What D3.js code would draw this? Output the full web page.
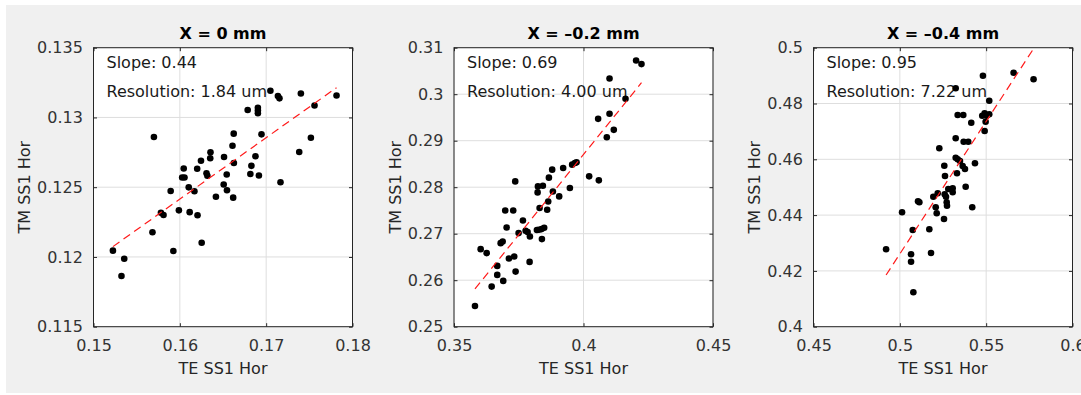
<!DOCTYPE html>
<html>
<head>
<meta charset="utf-8">
<script src="https://cdn.jsdelivr.net/npm/d3@7"></script>
<style>
  body { margin: 0; background: #ffffff; }
  svg { display: block; }
  text { font-family: "DejaVu Sans", sans-serif; }
</style>
</head>
<body>
<svg id="chart" width="1081" height="395"></svg>
<script>
// ---- Data: TE vs TM SS1 horizontal readings at three X offsets ----
const titles = ["X = 0 mm", "X = \u20130.2 mm", "X = \u20130.4 mm"];
const xLabel = "TE SS1 Hor";
const yLabel = "TM SS1 Hor";

const teX0 = [0.15225,0.15356,0.15324,0.15700,0.15683,0.15781,0.15811,0.15894,0.15925,0.15989,
  0.16045,0.16027,0.16054,0.16103,0.16114,0.16169,0.16201,0.16205,0.16245,0.16253,
  0.16309,0.16319,0.16355,0.16352,0.16418,0.16512,0.16508,0.16543,0.16546,0.16610,
  0.16624,0.16626,0.16618,0.16786,0.16817,0.16829,0.16876,0.16904,0.16904,0.16904,
  0.16916,0.16946,0.17049,0.17136,0.17154,0.17166,0.17383,0.17402,0.17518,0.17560,0.17815];
const tmY0 = [0.12045,0.11987,0.11863,0.12860,0.12177,0.12317,0.12301,0.12473,0.12043,0.12334,
  0.12634,0.12570,0.12570,0.12499,0.12321,0.12471,0.12632,0.12299,0.12690,0.12102,
  0.12600,0.12582,0.12751,0.12707,0.12432,0.12716,0.12519,0.12591,0.12478,0.12797,
  0.12884,0.12673,0.12425,0.13053,0.12595,0.12653,0.12722,0.13070,0.13050,0.13030,
  0.12584,0.12879,0.13191,0.13154,0.13137,0.12535,0.12752,0.13172,0.12854,0.13086,0.13157];

const teX1 = [0.3581,0.3603,0.36261,0.36454,0.3667,0.3667,0.36801,0.36878,0.36901,0.36978,
  0.37032,0.37121,0.37287,0.37364,0.37325,0.37379,0.37495,0.37661,0.37765,0.37842,
  0.37919,0.37931,0.38201,0.38278,0.3824,0.38228,0.38305,0.38382,0.38394,0.38432,
  0.38482,0.38598,0.38637,0.38664,0.38791,0.38818,0.39061,0.39215,0.39474,0.39562,
  0.39666,0.39732,0.40218,0.40565,0.40592,0.409,0.41005,0.41005,0.4117,0.41622,0.42031,0.42239];
const tmY1 = [0.25446,0.26668,0.26582,0.25862,0.26308,0.26114,0.26797,0.26832,0.25985,0.275,
  0.27134,0.26466,0.275,0.28125,0.26509,0.26185,0.27013,0.27284,0.27063,0.27034,
  0.26394,0.2694,0.27078,0.27084,0.28017,0.27888,0.27552,0.27099,0.26884,0.28032,
  0.27127,0.27515,0.27694,0.28205,0.28377,0.27909,0.27802,0.28414,0.27983,0.28485,
  0.28522,0.28534,0.28233,0.2947,0.28147,0.29073,0.30338,0.29578,0.29233,0.29901,0.30726,0.30647];

const teX2 = [0.49204,0.50129,0.5065,0.5065,0.50748,0.50783,0.51054,0.5113,0.51708,0.51806,
  0.51939,0.52078,0.52136,0.52194,0.52286,0.52558,0.52575,0.52616,0.52598,0.52674,
  0.52714,0.52731,0.52807,0.53061,0.53061,0.53235,0.53235,0.5335,0.5331,0.5335,
  0.53674,0.53483,0.53639,0.53772,0.53697,0.53963,0.53813,0.54137,0.54194,0.54351,
  0.53235,0.54813,0.54911,0.54773,0.54911,0.55027,0.54969,0.55178,0.55178,0.56589,0.57745];
const tmY2 = [0.42774,0.441,0.42595,0.4233,0.43466,0.41233,0.44495,0.44459,0.43491,0.42642,
  0.4466,0.4428,0.44065,0.44781,0.46394,0.4386,0.45771,0.45401,0.44746,0.4466,
  0.44459,0.44337,0.44935,0.4496,0.44817,0.46753,0.46057,0.46,0.45498,0.47588,
  0.47588,0.45939,0.4576,0.45652,0.46631,0.46631,0.45018,0.47312,0.4428,0.45857,
  0.48545,0.48996,0.47014,0.47563,0.47649,0.47563,0.47348,0.481,0.47613,0.49104,0.48867];

// Linear fit per panel (slope as reported, intercept of the fitted line)
const slopes = [0.44, 0.69, 0.95];
const intercepts = [0.05375, 0.01103, -0.04891];
const resolutions = ["1.84", "4.00", "7.22"];

const xDomains = [[0.15, 0.18], [0.35, 0.45], [0.45, 0.6]];
const yDomains = [[0.115, 0.135], [0.25, 0.31], [0.4, 0.5]];
const xTicks = [[0.15, 0.16, 0.17, 0.18], [0.35, 0.4, 0.45], [0.45, 0.5, 0.55, 0.6]];
const xTickLabels = [["0.15", "0.16", "0.17", "0.18"], ["0.35", "0.4", "0.45"], ["0.45", "0.5", "0.55", "0.6"]];
const yTicks = [[0.115, 0.12, 0.125, 0.13, 0.135],
                [0.25, 0.26, 0.27, 0.28, 0.29, 0.3, 0.31],
                [0.4, 0.42, 0.44, 0.46, 0.48, 0.5]];
const yTickLabels = [["0.115", "0.12", "0.125", "0.13", "0.135"],
                     ["0.25", "0.26", "0.27", "0.28", "0.29", "0.3", "0.31"],
                     ["0.4", "0.42", "0.44", "0.46", "0.48", "0.5"]];

const xsAll = [teX0, teX1, teX2];
const ysAll = [tmY0, tmY1, tmY2];

// ---- Layout ----
const svg = d3.select("#chart");
const W = 1081, H = 395;
const plotLefts = [93.5, 454, 813.5];
const plotTop = 47.7, plotW = 259, plotH = 279;
const axisColor = "#262626";
const gridColor = "#dedede";
const fontSize = 16;

svg.append("rect").attr("width", W).attr("height", H).attr("fill", "#ffffff");
svg.append("rect").attr("x", 6).attr("y", 5).attr("width", W - 6).attr("height", H - 7).attr("fill", "#f0f0f0");

for (let p = 0; p < 3; p++) {
  const g = svg.append("g").attr("transform", `translate(${plotLefts[p]},${plotTop})`);
  const x = d3.scaleLinear().domain(xDomains[p]).range([0, plotW]);
  const y = d3.scaleLinear().domain(yDomains[p]).range([plotH, 0]);

  // plot background
  g.append("rect").attr("width", plotW).attr("height", plotH).attr("fill", "#ffffff");

  // grid
  g.append("g").selectAll("line").data(xTicks[p]).join("line")
    .attr("x1", d => x(d)).attr("x2", d => x(d)).attr("y1", 0).attr("y2", plotH)
    .attr("stroke", gridColor).attr("stroke-width", 1);
  g.append("g").selectAll("line").data(yTicks[p]).join("line")
    .attr("y1", d => y(d)).attr("y2", d => y(d)).attr("x1", 0).attr("x2", plotW)
    .attr("stroke", gridColor).attr("stroke-width", 1);

  const clipId = "clip" + p;
  g.append("clipPath").attr("id", clipId).append("rect").attr("width", plotW).attr("height", plotH);

  // annotation text
  const ann = g.append("g").attr("font-size", fontSize).attr("fill", "#1a1a1a");
  ann.append("text").attr("x", 13).attr("y", 68 - plotTop).text("Slope: " + slopes[p].toFixed(2));
  ann.append("text").attr("x", 13).attr("y", 96.7 - plotTop).text("Resolution: " + resolutions[p] + " um");

  // points
  const pts = xsAll[p].map((v, i) => [v, ysAll[p][i]]);
  g.append("g").selectAll("circle").data(pts).join("circle")
    .attr("cx", d => x(d[0])).attr("cy", d => y(d[1])).attr("r", 3.3).attr("fill", "#000000");

  // fitted line across the data range
  const xMin = d3.min(xsAll[p]), xMax = d3.max(xsAll[p]);
  const fit = [xMin, xMax].map(v => [v, slopes[p] * v + intercepts[p]]);
  g.append("path").attr("clip-path", `url(#${clipId})`)
    .attr("d", d3.line().x(d => x(d[0])).y(d => y(d[1]))(fit))
    .attr("fill", "none").attr("stroke", "#ff1a1a").attr("stroke-width", 1.2)
    .attr("stroke-dasharray", "8,5");

  // axes with inward ticks on all four sides
  const styleAxis = sel => {
    sel.selectAll(".domain").remove();
    sel.selectAll("line").attr("stroke", axisColor);
    sel.selectAll("text").attr("fill", "#333333").attr("font-size", fontSize)
      .attr("font-family", "DejaVu Sans, sans-serif");
  };
  g.append("g").attr("transform", `translate(0,${plotH})`)
    .call(d3.axisBottom(x).tickValues(xTicks[p]).tickFormat((d, i) => xTickLabels[p][i])
      .tickSizeInner(-3.5).tickSizeOuter(0).tickPadding(13))
    .call(styleAxis);
  g.append("g")
    .call(d3.axisTop(x).tickValues(xTicks[p]).tickFormat(() => "").tickSizeInner(-3.5).tickSizeOuter(0))
    .call(styleAxis);
  const yAxisG = g.append("g")
    .call(d3.axisLeft(y).tickValues(yTicks[p]).tickFormat((d, i) => yTickLabels[p][i])
      .tickSizeInner(-3.5).tickSizeOuter(0).tickPadding(10.6))
    .call(styleAxis);
  g.append("g").attr("transform", `translate(${plotW},0)`)
    .call(d3.axisRight(y).tickValues(yTicks[p]).tickFormat(() => "").tickSizeInner(-3.5).tickSizeOuter(0))
    .call(styleAxis);

  // box
  g.append("rect").attr("width", plotW).attr("height", plotH)
    .attr("fill", "none").attr("stroke", axisColor).attr("stroke-width", 1);

  // title
  g.append("text").attr("x", plotW / 2).attr("y", 39 - plotTop)
    .attr("text-anchor", "middle").attr("font-size", fontSize).attr("font-weight", "bold")
    .attr("fill", "#000000").text(titles[p]);

  // x label
  g.append("text").attr("x", plotW / 2).attr("y", 374 - plotTop)
    .attr("text-anchor", "middle").attr("font-size", fontSize).attr("fill", "#262626").text(xLabel);

  // y label placed just left of the widest tick label
  let minLeft = 0;
  yAxisG.selectAll("text").each(function () {
    const b = this.getBBox();
    minLeft = Math.min(minLeft, b.x);
  });
  const yl = minLeft - 12.7;
  g.append("text")
    .attr("transform", `translate(${yl},${plotH / 2}) rotate(-90)`)
    .attr("text-anchor", "middle").attr("dominant-baseline", "central")
    .attr("font-size", fontSize).attr("fill", "#262626").text(yLabel);
}
</script>
</body>
</html>
